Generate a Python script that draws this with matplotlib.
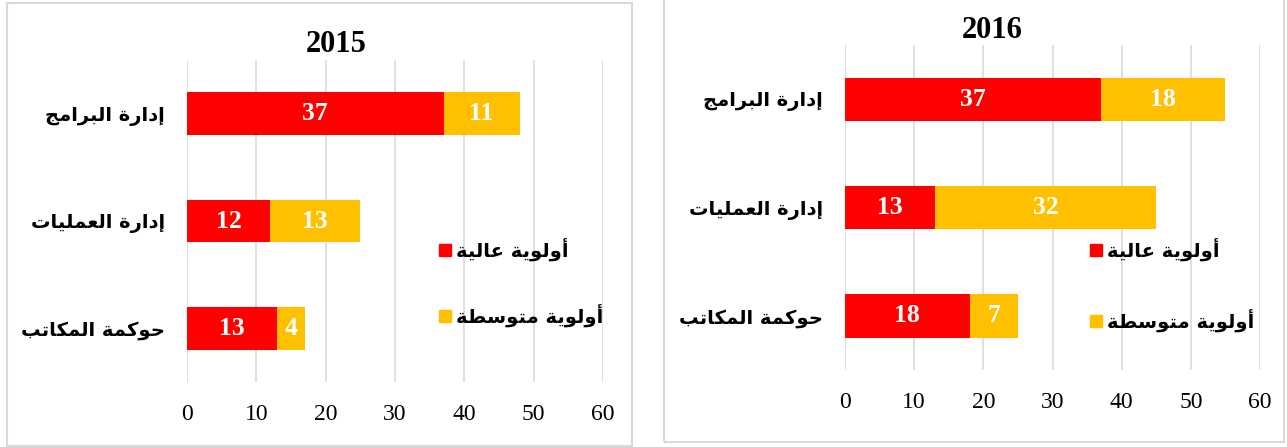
import matplotlib
matplotlib.use("Agg")
import matplotlib.pyplot as plt
from matplotlib.patches import Rectangle, Patch

# ======================
# DATA
# ======================
categories = ["إدارة البرامج", "إدارة العمليات", "حوكمة المكاتب"]
series_names = ["أولوية عالية", "أولوية متوسطة"]

high_2015 = [37, 12, 13]
mid_2015 = [11, 13, 4]
high_2016 = [37, 13, 18]
mid_2016 = [18, 32, 7]

years = ["2015", "2016"]
x_ticks = [0, 10, 20, 30, 40, 50, 60]

RED = "#FF0000"
ORANGE = "#FFC000"
GRID = "#D9D9D9"

# ======================
# ARABIC SHAPING (matplotlib has no complex text layout)
# ======================
FORMS = {
    "ا": ("\uFE8D", "\uFE8E", None, None),
    "أ": ("\uFE83", "\uFE84", None, None),
    "إ": ("\uFE87", "\uFE88", None, None),
    "ب": ("\uFE8F", "\uFE90", "\uFE91", "\uFE92"),
    "ة": ("\uFE93", "\uFE94", None, None),
    "ت": ("\uFE95", "\uFE96", "\uFE97", "\uFE98"),
    "ج": ("\uFE9D", "\uFE9E", "\uFE9F", "\uFEA0"),
    "ح": ("\uFEA1", "\uFEA2", "\uFEA3", "\uFEA4"),
    "د": ("\uFEA9", "\uFEAA", None, None),
    "ر": ("\uFEAD", "\uFEAE", None, None),
    "س": ("\uFEB1", "\uFEB2", "\uFEB3", "\uFEB4"),
    "ط": ("\uFEC1", "\uFEC2", "\uFEC3", "\uFEC4"),
    "ع": ("\uFEC9", "\uFECA", "\uFECB", "\uFECC"),
    "ك": ("\uFED9", "\uFEDA", "\uFEDB", "\uFEDC"),
    "ل": ("\uFEDD", "\uFEDE", "\uFEDF", "\uFEE0"),
    "م": ("\uFEE1", "\uFEE2", "\uFEE3", "\uFEE4"),
    "و": ("\uFEED", "\uFEEE", None, None),
    "ي": ("\uFEF1", "\uFEF2", "\uFEF3", "\uFEF4"),
}


def shape(text):
    out = []
    for i, ch in enumerate(text):
        if ch not in FORMS:
            out.append(ch)
            continue
        prev = text[i - 1] if i > 0 else ""
        nxt = text[i + 1] if i + 1 < len(text) else ""
        joins_prev = prev in FORMS and FORMS[prev][2] is not None
        joins_next = FORMS[ch][2] is not None and nxt in FORMS
        isol, fina, init, medi = FORMS[ch]
        if joins_prev and joins_next:
            out.append(medi)
        elif joins_prev:
            out.append(fina)
        elif joins_next:
            out.append(init)
        else:
            out.append(isol)
    return "".join(reversed(out))


SERIF = ["Liberation Serif", "DejaVu Serif"]
ARABIC = ["DejaVu Sans"]

# ======================
# FIGURE
# ======================
W, H = 1287, 447
fig = plt.figure(figsize=(W / 100, H / 100), dpi=100)


def fx(px):
    return px / W


def fy(py):
    return 1 - py / H


# panel borders
for (x0, y0, x1, y1) in [(7, 3, 632, 446), (664, -2, 1284, 442)]:
    fig.patches.append(Rectangle((fx(x0), fy(y1)), fx(x1) - fx(x0), fy(y0) - fy(y1),
                                 transform=fig.transFigure, fill=False,
                                 edgecolor=GRID, linewidth=1.5))

panels = [
    # axes box (left, top, right, bottom) px, title pos, legend anchor, data
    dict(box=(187, 60, 603, 382), title=(336, 45), legend=(439, 238), spacing=2.2,
         high=high_2015, mid=mid_2015, year=years[0]),
    dict(box=(845, 45, 1260, 370), title=(992, 30), legend=(1090, 238), spacing=2.45,
         high=high_2016, mid=mid_2016, year=years[1]),
]

for p in panels:
    l, t, r, b = p["box"]
    ax = fig.add_axes([fx(l), fy(b), fx(r) - fx(l), fy(t) - fy(b)])
    pos = list(range(len(categories)))

    b1 = ax.barh(pos, p["high"], height=0.4, color=RED, label=series_names[0])
    b2 = ax.barh(pos, p["mid"], left=p["high"], height=0.4, color=ORANGE,
                 label=series_names[1])
    for bars in (b1, b2):
        ax.bar_label(bars, label_type="center", color="white", fontsize=18.5,
                     fontweight="bold", family=SERIF)

    ax.set_xlim(0, 60)
    ax.set_ylim(2.5, -0.5)
    ax.set_xticks(x_ticks)
    ax.set_xticklabels([str(v) for v in x_ticks], family=SERIF, fontsize=17)
    ax.set_yticks(pos)
    ax.set_yticklabels([shape(c) for c in categories], family=ARABIC,
                       fontsize=14, fontweight="bold")
    ax.tick_params(axis="x", length=0, pad=16)
    ax.tick_params(axis="y", length=0, pad=16)
    ax.grid(axis="x", color=GRID, linewidth=1.2)
    ax.set_axisbelow(True)
    for s in ax.spines.values():
        s.set_visible(False)

    fig.text(fx(p["title"][0]), fy(p["title"][1]), p["year"], ha="center",
             va="center", fontsize=22, fontweight="bold", family=SERIF)

    handles = [Patch(color=RED), Patch(color=ORANGE)]
    lx, ly = p["legend"]
    ax.legend(handles, [shape(s) for s in series_names], loc="upper left",
              bbox_to_anchor=(fx(lx), fy(ly)), bbox_transform=fig.transFigure,
              frameon=False, borderpad=0, borderaxespad=0, handlelength=0.6,
              handleheight=0.6, handletextpad=0.25, labelspacing=p["spacing"],
              prop=dict(family=ARABIC, size=14, weight="bold"))

fig.savefig("out.png", dpi=100)
